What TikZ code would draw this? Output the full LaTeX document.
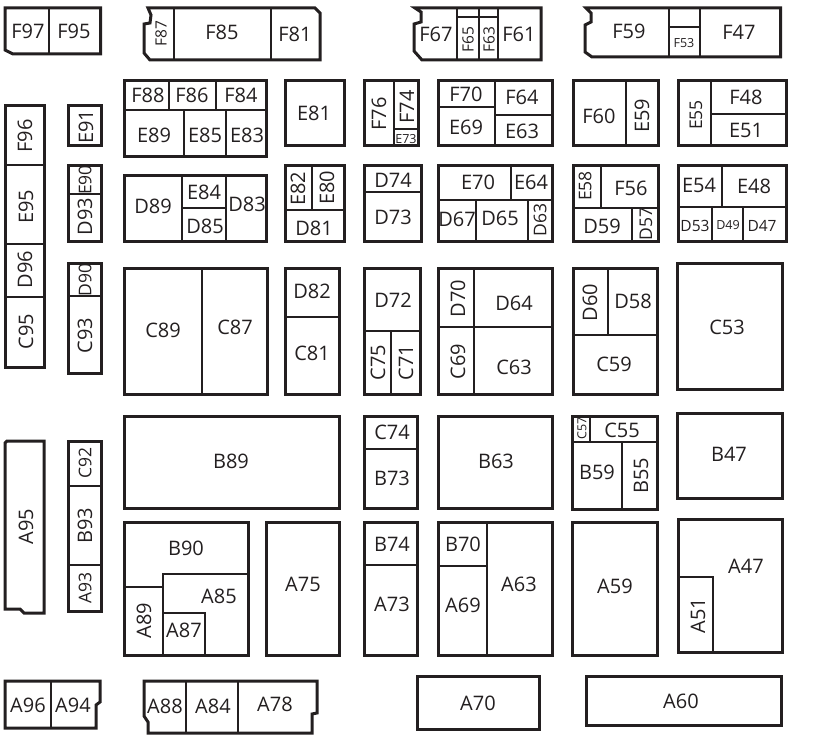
\documentclass[tikz,border=0pt]{standalone}
\usepackage{fontspec}
\setmainfont{Open Sans}
\definecolor{ink}{HTML}{231F20}
\tikzset{
  outl/.style={draw=ink,line width=3pt,line join=miter},
  divd/.style={draw=ink,line width=2.6pt},
  lab/.style={text=ink,inner sep=0pt,yshift=-0.8pt,font=\fontsize{20}{20}\selectfont},
  rlab/.style={lab,rotate=90},
  nlab/.style={text=ink,inner sep=0pt,font=\fontsize{17.5}{17.5}\selectfont},
  rnlab/.style={nlab,rotate=90},
  mlab/.style={text=ink,inner sep=0pt,yshift=-0.5pt,font=\fontsize{15.5}{15.5}\selectfont},
  rmlab/.style={mlab,rotate=90},
  slab/.style={text=ink,inner sep=0pt,yshift=-0.5pt,font=\fontsize{12.5}{12.5}\selectfont},
  rslab/.style={slab,rotate=90}
}
\newcommand{\rc}[4]{\draw[outl] (#1,#2) rectangle (#3,#4);}
\newcommand{\dv}[4]{\draw[divd] (#1,#2) -- (#3,#4);}
\newcommand{\lb}[3]{\node[lab] (#1) at (#2,#3) {#1};}
\newcommand{\rl}[3]{\node[rlab] (#1) at (#2,#3) {#1};}
\newcommand{\rnl}[3]{\node[rnlab] (#1) at (#2,#3) {#1};}
\newcommand{\ml}[3]{\node[mlab] (#1) at (#2,#3) {#1};}
\newcommand{\rml}[3]{\node[rmlab] (#1) at (#2,#3) {#1};}
\newcommand{\sml}[3]{\node[slab] (#1) at (#2,#3) {#1};}
\newcommand{\rsl}[3]{\node[rslab] (#1) at (#2,#3) {#1};}
\begin{document}
\begin{tikzpicture}[x=1pt,y=-1pt]
\useasboundingbox (0,0) rectangle (813,738);
% top row
\draw[outl] (5,8) -- (100.5,8) -- (100.5,54) -- (13,54) -- (5,50) -- cycle;
\dv{49}{8}{49}{54}
\lb{F97}{28}{31} \lb{F95}{74}{31}
\draw[outl] (148,8) -- (315,8) -- (320,13) -- (320,60) -- (150,60) -- (144,53) -- (144,24) -- (150,23) -- (151,15) -- cycle;
\dv{174}{8}{174}{60} \dv{271}{8}{271}{60}
\rml{F87}{161}{33} \lb{F85}{222}{32} \lb{F81}{295}{34}
\draw[outl] (415,8) -- (541,8) -- (541,60) -- (422,60) -- (414,51) -- (414,24) -- (421,22) -- (421,12) -- cycle;
\dv{457}{8}{457}{60} \dv{479}{8}{479}{60} \dv{498}{8}{498}{60} \dv{457}{17}{498}{17}
\lb{F67}{436}{34} \rml{F65}{468}{39} \rml{F63}{489}{39} \lb{F61}{519}{34}
\draw[outl] (586,8) -- (780.5,8) -- (780.5,57) -- (592,57) -- (585,52) -- (585,25) -- (591,22) -- (591,13) -- cycle;
\dv{669}{8}{669}{57} \dv{700}{8}{700}{57} \dv{669}{27}{700}{27}
\lb{F59}{629}{31} \sml{F53}{684}{43} \lb{F47}{739}{32}
% second row
\rc{124}{81}{266.5}{157} \dv{124}{110}{266.5}{110}
\dv{169}{81}{169}{110} \dv{216}{81}{216}{110} \dv{184}{110}{184}{157} \dv{226}{110}{226}{157}
\lb{F88}{148}{95} \lb{F86}{192}{95} \lb{F84}{241}{95} \lb{E89}{154}{135} \lb{E85}{205}{135} \lb{E83}{247}{135}
\rc{285}{81}{344.5}{146} \lb{E81}{314}{113}
\rc{364}{81}{418}{146} \dv{394}{81}{394}{146} \dv{394}{129}{418}{129}
\rl{F76}{379}{113} \rl{F74}{407}{106} \sml{E73}{406}{139}
\rc{438}{81}{552}{146} \dv{495}{81}{495}{146} \dv{438}{107}{495}{107} \dv{495}{115}{552}{115}
\lb{F70}{466}{94} \lb{F64}{522}{97} \lb{E69}{466}{127} \lb{E63}{522}{131}
\rc{573}{81}{658}{146} \dv{626}{81}{626}{146}
\lb{F60}{599}{116} \rl{E59}{642}{115}
\rc{678}{81}{786}{146} \dv{711}{81}{711}{146} \dv{711}{114}{786}{114}
\rnl{E55}{696}{115} \lb{F48}{746}{97} \lb{E51}{746}{130}
% third row
\rc{68}{106}{101}{146} \rl{E91}{86}{126}
\rc{5}{106}{44}{367} \dv{5}{165}{44}{165} \dv{5}{244}{44}{244} \dv{5}{297}{44}{297}
\rl{F96}{25}{135} \rl{E95}{26}{206} \rl{D96}{25}{269} \rl{C95}{26}{331}
\rc{68}{166}{101}{241} \dv{68}{194}{101}{194}
\rnl{E90}{85}{180} \rl{D93}{85}{216}
\rc{124}{176}{266.5}{241} \dv{182}{176}{182}{241} \dv{226}{176}{226}{241} \dv{182}{208}{226}{208}
\lb{D89}{153}{206} \lb{E84}{204}{192} \lb{D85}{205}{226} \lb{D83}{247}{204}
\rc{285}{166}{344.5}{241} \dv{285}{210}{344.5}{210} \dv{312}{166}{312}{210}
\rl{E82}{298}{188} \rl{E80}{327}{187} \lb{D81}{314}{228}
\rc{364}{166}{421}{241} \dv{364}{192}{421}{192}
\lb{D74}{393}{180} \lb{D73}{393}{217}
\rc{438}{166}{552}{241} \dv{438}{200}{552}{200} \dv{511}{166}{511}{200} \dv{476}{200}{476}{241} \dv{528}{200}{528}{241}
\lb{E70}{478}{182} \lb{E64}{531}{182} \lb{D67}{457}{219} \lb{D65}{500}{218} \rnl{D63}{540}{220}
\rc{573}{166}{658}{241} \dv{573}{208}{658}{208} \dv{601}{166}{601}{208} \dv{632}{208}{632}{241}
\rnl{E58}{585}{186} \lb{F56}{631}{188} \lb{D59}{602}{226} \rnl{D57}{646}{224}
\rc{678}{166}{786}{241} \dv{678}{207}{786}{207} \dv{722}{166}{722}{207} \dv{712}{207}{712}{241} \dv{743}{207}{743}{241}
\lb{E54}{699}{185} \lb{E48}{754}{186} \ml{D53}{695}{225} \sml{D49}{728}{225} \ml{D47}{762}{225}
% fourth row
\rc{68}{263}{101}{373} \dv{68}{296}{101}{296}
\rnl{D90}{85}{280} \rl{C93}{85}{335}
\rc{124}{268}{267}{394} \dv{202}{268}{202}{394}
\lb{C89}{163}{330} \lb{C87}{235}{327}
\rc{285}{268}{339.5}{394} \dv{285}{317}{339.5}{317}
\lb{D82}{312}{291} \lb{C81}{312}{353}
\rc{364}{268}{420}{394} \dv{364}{331}{420}{331} \dv{391}{331}{391}{394}
\lb{D72}{393}{299} \rl{C75}{378}{362} \rl{C71}{406}{362}
\rc{438}{268}{552}{394} \dv{438}{327}{552}{327} \dv{474}{268}{474}{394}
\rl{D70}{458}{298} \lb{D64}{514}{303} \rl{C69}{458}{361} \lb{C63}{514}{367}
\rc{573}{268}{657}{394} \dv{573}{335}{657}{335} \dv{608}{268}{608}{335}
\rl{D60}{590}{302} \lb{D58}{633}{301} \lb{C59}{614}{364}
\rc{677}{263}{782}{389} \lb{C53}{727}{327}
% fifth row
\draw[outl] (7,441) -- (44,441) -- (44,613) -- (24,613) -- (20,609) -- (5,609) -- (5,443) -- cycle;
\rl{A95}{26}{526}
\rc{68}{441}{101}{611} \dv{68}{486}{101}{486} \dv{68}{565}{101}{565}
\rnl{C92}{85}{463} \rl{B93}{85}{525} \rnl{A93}{85}{588}
\rc{124}{416}{339.5}{508} \lb{B89}{231}{461}
\rc{364}{416}{417}{508} \dv{364}{449}{417}{449}
\lb{C74}{392}{432} \lb{B73}{392}{478}
\rc{438}{416}{552}{508} \lb{B63}{496}{461}
\rc{572}{416}{657}{509} \dv{572}{442}{657}{442} \dv{590}{416}{590}{442} \dv{622}{442}{622}{509}
\rsl{C57}{582}{428} \lb{C55}{622}{430} \lb{B59}{597}{472} \rl{B55}{641}{475}
\rc{677}{413}{782}{498} \lb{B47}{729}{454}
% sixth row
\rc{124}{522}{248}{655}
\draw[divd] (124,587) -- (163,587); \draw[divd] (163,655) -- (163,574) -- (248,574);
\draw[divd] (163,613) -- (205,613) -- (205,655);
\lb{B90}{186}{548} \lb{A85}{219}{596} \rl{A89}{144}{620} \lb{A87}{184}{630}
\rc{266}{522}{339.5}{655} \lb{A75}{303}{584}
\rc{364}{522}{417}{655} \dv{364}{565}{417}{565}
\lb{B74}{392}{544} \lb{A73}{392}{604}
\rc{438}{522}{552}{655} \dv{487}{522}{487}{655} \dv{438}{566}{487}{566}
\lb{B70}{463}{544} \lb{A69}{463}{605} \lb{A63}{519}{584}
\rc{572}{522}{657}{655} \lb{A59}{615}{586}
\rc{678}{519}{782}{652} \draw[divd] (678,577) -- (713,577) -- (713,652);
\lb{A47}{746}{566} \rl{A51}{698}{615}
% bottom row
\draw[outl] (5,681) -- (100,681) -- (100,702) -- (96,705) -- (96,728) -- (5,728) -- cycle;
\dv{51}{681}{51}{728}
\lb{A96}{28}{705} \lb{A94}{73}{705}
\draw[outl] (144,681) -- (317,681) -- (317,713) -- (312,714) -- (312,733) -- (148,733) -- (148,722) -- (144,716) -- cycle;
\dv{186}{681}{186}{733} \dv{238}{681}{238}{733}
\lb{A88}{165}{706} \lb{A84}{213}{706} \lb{A78}{275}{704}
\rc{417}{676}{539}{729} \lb{A70}{478}{703}
\rc{586}{676}{781}{725} \lb{A60}{681}{701}
\end{tikzpicture}
\end{document}
